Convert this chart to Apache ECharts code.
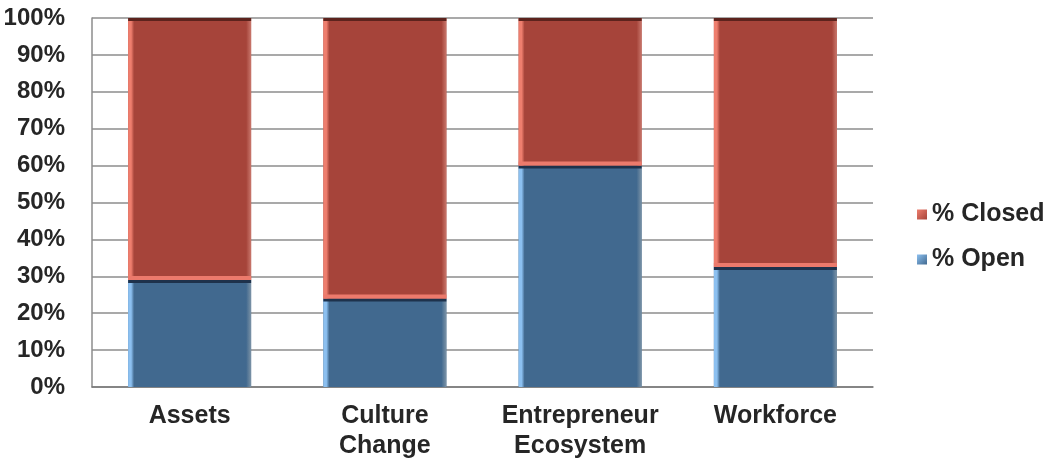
<!DOCTYPE html>
<html>
<head>
<meta charset="utf-8">
<script src="https://cdn.jsdelivr.net/npm/echarts@6/dist/echarts.min.js"></script>
<style>
  html, body { margin: 0; padding: 0; background: #ffffff; }
  #chart { width: 1059px; height: 464px; }
</style>
</head>
<body>
<div id="chart"></div>
<script>
// Share of items by status in each area (percent)
const categories = ['Assets', 'Culture\nChange', 'Entrepreneur\nEcosystem', 'Workforce'];
const openPct = [29, 24, 60, 32.5];
const closedPct = [71, 76, 40, 67.5];
const yTicks = [0, 10, 20, 30, 40, 50, 60, 70, 80, 90, 100];

// Bevelled bar palette
const OPEN = { main: '#41698F', left: '#8CC0F0', right: '#7C93A6', top: '#1E324C', bottom: null };
const CLOSED = { main: '#A6443A', left: '#EE7E6E', right: '#C9776C', top: '#5C231D', bottom: '#EC7A6C' };

function segData(vals, bases) {
  return vals.map((v, i) => [i, bases[i], bases[i] + v]);
}
const zeros = categories.map(() => 0);

function bevelRenderer(pal) {
  return function (params, api) {
    const idx = api.value(0);
    const p0 = api.coord([idx, api.value(1)]);
    const p1 = api.coord([idx, api.value(2)]);
    const w = api.size([1, 0])[0] * 0.63;
    const x = p0[0] - w / 2;
    const yTop = p1[1];
    const h = p0[1] - p1[1];
    const children = [
      { type: 'rect', shape: { x: x, y: yTop, width: w, height: h }, style: { fill: pal.main } },
      { type: 'rect', shape: { x: x, y: yTop, width: 6, height: h },
        style: { fill: new echarts.graphic.LinearGradient(0, 0, 1, 0, [
          { offset: 0, color: pal.left }, { offset: 0.5, color: pal.left }, { offset: 1, color: pal.main }]) } },
      { type: 'rect', shape: { x: x + w - 5, y: yTop, width: 5, height: h },
        style: { fill: new echarts.graphic.LinearGradient(0, 0, 1, 0, [
          { offset: 0, color: pal.main }, { offset: 1, color: pal.right }]) } },
      { type: 'rect', shape: { x: x, y: yTop, width: w, height: 3 }, style: { fill: pal.top } }
    ];
    if (pal.bottom) {
      children.push({ type: 'rect', shape: { x: x, y: p0[1] - 4, width: w, height: 4 },
        style: { fill: pal.bottom } });
    }
    return { type: 'group', children: children };
  };
}

const chart = echarts.init(document.getElementById('chart'));
chart.setOption({
  animation: false,
  textStyle: { fontFamily: 'Liberation Sans, Arial, sans-serif' },
  grid: { left: 92, right: 186, top: 18, bottom: 77 },
  legend: {
    orient: 'vertical',
    left: 912,
    top: 197,
    itemWidth: 10,
    itemHeight: 10,
    itemGap: 20,
    icon: 'rect',
    data: [
      { name: '% Closed', itemStyle: { color: new echarts.graphic.LinearGradient(0, 0, 1, 1, [
        { offset: 0, color: '#EE7E6E' }, { offset: 1, color: '#A6443A' }]) } },
      { name: '% Open', itemStyle: { color: new echarts.graphic.LinearGradient(0, 0, 1, 1, [
        { offset: 0, color: '#8CC0F0' }, { offset: 1, color: '#41698F' }]) } }
    ],
    textStyle: { fontSize: 25, fontWeight: 'bold', color: '#262626' }
  },
  xAxis: {
    type: 'category',
    data: categories,
    axisLine: { show: true, lineStyle: { color: '#7a7a7a', width: 1.5 } },
    axisTick: { show: false },
    axisLabel: {
      interval: 0,
      fontSize: 25, fontWeight: 'bold', color: '#262626', lineHeight: 30, margin: 14
    }
  },
  yAxis: {
    type: 'value',
    min: 0,
    max: 100,
    interval: 10,
    axisLine: { show: true, lineStyle: { color: '#8c8c8c', width: 1.5 } },
    axisTick: { show: false },
    splitLine: { lineStyle: { color: '#8c8c8c', width: 1.5 } },
    axisLabel: {
      fontSize: 24, fontWeight: 'bold', color: '#262626', margin: 27,
      customValues: yTicks,
      formatter: v => v + '%'
    }
  },
  series: [
    {
      name: '% Open',
      type: 'custom',
      renderItem: bevelRenderer(OPEN),
      encode: { x: 0, y: [1, 2] },
      itemStyle: { color: '#41698F' },
      data: segData(openPct, zeros)
    },
    {
      name: '% Closed',
      type: 'custom',
      renderItem: bevelRenderer(CLOSED),
      encode: { x: 0, y: [1, 2] },
      itemStyle: { color: '#A6443A' },
      data: segData(closedPct, openPct)
    }
  ]
});
</script>
</body>
</html>
